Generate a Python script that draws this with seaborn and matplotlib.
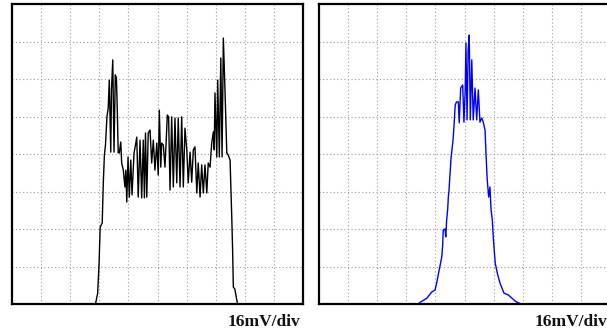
import numpy as np
import pandas as pd
import seaborn as sns
import matplotlib.pyplot as plt

sns.set_style("white")

# horizontal: mV (16 mV/div), vertical: screen divisions
left_mv = [-34.1, -32.9, -32.2, -31.5, -30.4, -29.8, -29.2, -28.6, -27.8, -27.1,
           -26.5, -25.7, -25.3, -24.6, -23.9, -23.2, -22.6, -22.1, -21.6, -21.0,
           -20.2, -19.7, -18.8, -17.9, -17.4, -16.9, -16.2, -15.5, -14.7, -14.0,
           -12.9, -12.1, -11.4, -10.6, -9.6, -8.7, -7.8, -7.2, -6.6, -5.9,
           -5.1, -4.1, -3.2, -2.3, -1.4, -0.4, 0.4, 1.0, 1.8, 2.3,
           3.2, 4.1, 4.8, 5.4, 6.1, 6.9, 7.8, 8.7, 9.6, 10.6,
           11.4, 12.4, 13.3, 14.2, 15.1, 16.1, 16.9, 17.9, 18.8, 19.7,
           20.6, 21.6, 22.4, 23.4, 24.3, 25.2, 26.1, 27.1, 27.9, 28.9,
           29.8, 30.7, 31.2, 31.6, 32.6, 33.1, 34.0, 34.8, 35.5, 36.2,
           37.1, 38.1, 38.9, 39.9, 40.8, 41.3, 41.7, 42.5, 44.0]
left_div = [0.0, 0.29, 0.99, 2.05, 2.16, 3.23, 3.97, 4.24, 4.99, 5.23,
            5.97, 4.05, 5.71, 6.51, 4.05, 6.11, 6.03, 5.17, 4.03, 4.03,
            4.32, 3.76, 3.57, 3.12, 3.57, 2.72, 3.92, 2.85, 3.84, 2.91,
            4.03, 4.24, 4.45, 2.85, 4.37, 2.83, 4.37, 2.83, 4.56, 2.85,
            4.56, 4.64, 3.76, 4.37, 3.57, 4.29, 3.44, 5.17, 3.65, 4.29,
            4.24, 3.65, 4.37, 5.04, 4.99, 3.04, 4.99, 3.12, 4.96, 3.23,
            4.96, 3.12, 4.99, 3.12, 4.69, 4.11, 3.23, 4.05, 3.25, 4.11,
            4.19, 2.96, 3.76, 2.85, 3.71, 2.96, 3.71, 2.96, 3.76, 3.65,
            4.29, 4.59, 4.11, 5.63, 3.92, 5.97, 3.92, 6.56, 3.92, 7.09,
            5.71, 4.03, 3.97, 3.84, 2.37, 1.44, 0.45, 0.40, 0.0]

right_mv = [-24.9, -20.8, -18.0, -16.2, -15.3, -13.9, -12.5, -12.0, -11.7, -10.7,
            -10.3, -9.8, -9.2, -8.9, -8.5, -8.1, -7.8, -7.4, -6.9, -6.3,
            -5.8, -5.1, -4.4, -3.4, -2.9, -2.1, -1.0, -0.3, 0.4, 0.8,
            1.4, 2.0, 2.6, 3.2, 4.0, 4.8, 5.8, 6.7, 7.6, 8.5,
            9.5, 10.3, 11.3, 11.8, 12.5, 13.3, 14.0, 14.6, 15.3, 15.8,
            16.2, 16.9, 18.0, 19.5, 21.7, 24.1, 26.0, 28.3, 30.1, 31.1]
right_div = [0.03, 0.15, 0.32, 0.37, 0.56, 0.91, 1.25, 1.57, 1.97, 2.0,
             1.79, 2.24, 2.56, 2.85, 3.04, 3.36, 3.57, 3.89, 4.11, 4.37,
             4.72, 5.31, 5.39, 5.39, 4.83, 5.76, 5.84, 4.85, 5.71, 6.96,
             4.91, 6.77, 7.17, 4.91, 6.51, 4.91, 5.76, 4.91, 5.71, 4.85,
             4.96, 4.85, 4.64, 4.03, 3.31, 2.85, 3.12, 2.51, 2.24, 1.79,
             1.52, 1.09, 0.83, 0.56, 0.29, 0.24, 0.16, 0.06, 0.02, 0.0]

scale_label = "16mV/div"

left = pd.DataFrame({"mv": left_mv, "div": left_div})
right = pd.DataFrame({"mv": right_mv, "div": right_div})

fig = plt.figure(figsize=(6.07, 3.33), dpi=100)
ax1 = fig.add_axes([12 / 607, 29 / 333, 291 / 607, 300 / 333])
ax2 = fig.add_axes([319 / 607, 29 / 333, 291 / 607, 300 / 333])

sns.lineplot(data=left, x="mv", y="div", ax=ax1, color="black",
             lw=1.0, sort=False, estimator=None)
sns.lineplot(data=right, x="mv", y="div", ax=ax2, color="#0000ff",
             lw=1.0, sort=False, estimator=None)

for ax in (ax1, ax2):
    ax.set_xlim(-80, 80)
    ax.set_ylim(0, 8)
    ax.set_xticks(np.arange(-64, 80, 16))
    ax.set_yticks(np.arange(1, 8))
    ax.tick_params(length=0, labelbottom=False, labelleft=False)
    ax.grid(True, color="#9a9a9a", lw=0.8, linestyle=(0, (1, 2.2)))
    ax.set_xlabel("")
    ax.set_ylabel("")
    for s in ax.spines.values():
        s.set_visible(True)
        s.set_color("black")
        s.set_linewidth(1.6)
    ax.text(0.99, -0.075, scale_label, transform=ax.transAxes, ha="right",
            va="baseline", fontsize=12.5, fontweight="bold",
            family="Liberation Serif", color="#111111")

fig.savefig("out.png", dpi=100)
